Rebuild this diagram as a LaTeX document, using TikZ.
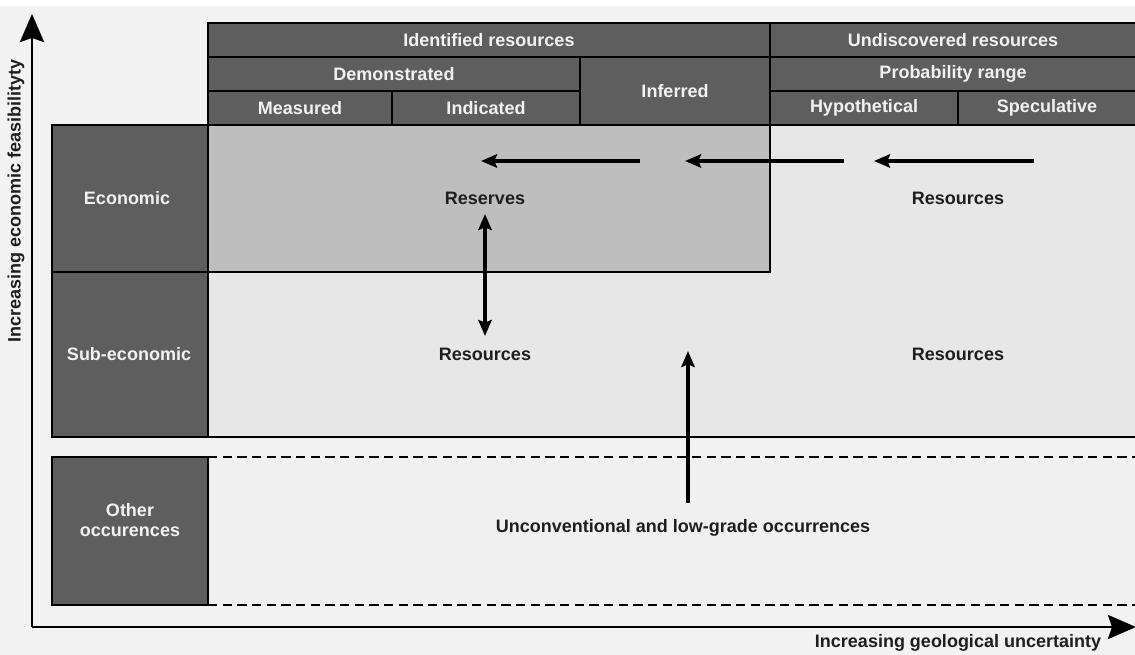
\documentclass[tikz,border=0pt]{standalone}
\usepackage{fontspec}
\setmainfont{Liberation Sans}
\usetikzlibrary{arrows.meta,fit}
\definecolor{bgc}{HTML}{F2F2F2}
\definecolor{hdrc}{HTML}{5E5E5E}
\definecolor{resc}{HTML}{BEBEBE}
\definecolor{lightc}{HTML}{E7E7E7}
\definecolor{otherc}{HTML}{F0F0F0}
\definecolor{txtw}{HTML}{F2F2F2}
\definecolor{txtd}{HTML}{1E1E1E}
\begin{document}
\begin{tikzpicture}[x=0.75pt,y=-0.75pt,
  lbl/.style={font=\bfseries\fontsize{13.5}{16}\selectfont},
  hdr/.style={draw=black,line width=1.3pt,fill=hdrc,inner sep=0pt},
  htxt/.style={lbl,text=txtw,align=center},
  body/.style={text=txtd,lbl},
  flow/.style={line width=2.7pt,-{Stealth[length=12pt,width=10pt,inset=2pt]}},
  both/.style={line width=2.7pt,{Stealth[length=12pt,width=10pt,inset=2pt]}-{Stealth[length=12pt,width=10pt,inset=2pt]}},
  axis/.style={line width=2.2pt,-{Stealth[length=21pt,width=18pt,inset=3pt]}}]
\useasboundingbox (0,0) rectangle (1135,655);
\fill[bgc] (0,0) rectangle (1135,655);
\fill[white] (0,0) rectangle (1135,6);
% body regions
\fill[lightc] (208,125) rectangle (1135,437);
\filldraw[fill=resc,draw=black,line width=1.5pt] (208,125) rectangle (770,272);
\fill[otherc] (208,457) rectangle (1135,605);
\draw[line width=1.5pt,dash pattern=on 7pt off 4pt] (208,457) -- (1135,457);
\draw[line width=1.5pt,dash pattern=on 7pt off 4pt] (208,605) -- (1135,605);
% side boxes
\node[hdr,fit={(52,125) (208,272)}] (eco) {};
\node[htxt] (ecot) at (127,198) {Economic};
\node[hdr,fit={(52,272) (208,437)}] (sub) {};
\node[htxt] (subt) at (129,354) {Sub-economic};
\node[hdr,fit={(52,457) (208,605)}] (oth) {};
\node[htxt,font=\bfseries\fontsize{13.5}{15.5}\selectfont] (otht) at (130,520) {Other\\occurences};
% header
\node[hdr,fit={(208,23) (770,57)}] (ident) {};
\node[htxt] at (ident.center) {Identified resources};
\node[hdr,fit={(208,57) (580,91)}] (demo) {};
\node[htxt] at (demo.center) {Demonstrated};
\node[hdr,fit={(208,91) (392,125)}] (meas) {};
\node[htxt] at (meas.center) {Measured};
\node[hdr,fit={(392,91) (580,125)}] (indi) {};
\node[htxt] at (indi.center) {Indicated};
\node[hdr,fit={(580,57) (770,125)}] (infe) {};
\node[htxt] at (infe.center) {Inferred};
\node[hdr,fit={(770,23) (1136,57)}] (undi) {};
\node[htxt] at (undi.center) {Undiscovered resources};
\node[hdr,fit={(770,57) (1136,91)}] (prob) {};
\node[htxt] at (prob.center) {Probability range};
\node[hdr,fit={(770,91) (958,125)}] (hypo) {};
\node[htxt] at (hypo.center) {Hypothetical};
\node[hdr,fit={(958,91) (1136,125)}] (spec) {};
\node[htxt] at (spec.center) {Speculative};
\draw[line width=1.5pt] (208,125) -- (208,437);
\draw[line width=2pt] (52,437) -- (1135,437);
% body labels
\node[body] (reserves) at (485,198) {Reserves};
\node[body] (resR1) at (958,198) {Resources};
\node[body] (resL2) at (485,354) {Resources};
\node[body] (resR2) at (958,354) {Resources};
\node[body] (unconv) at (683,528) {Unconventional and low-grade occurrences};
% arrows
\coordinate (a1s) at (640,161); \coordinate (a1e) at (481,161);
\coordinate (a2s) at (844,161); \coordinate (a2e) at (685,161);
\coordinate (a3s) at (1034,161); \coordinate (a3e) at (874,161);
\draw[flow] (a1s) -- (a1e);
\draw[flow] (a2s) -- (a2e);
\draw[flow] (a3s) -- (a3e);
\coordinate (d1) at (485,214); \coordinate (d2) at (485,336);
\draw[both] (d1) -- (d2);
\coordinate (v1) at (688,503); \coordinate (v2) at (688,351);
\draw[flow] (v1) -- (v2);
% axes
\coordinate (O) at (32,627);
\coordinate (Yt) at (32,14);
\coordinate (Xt) at (1136,627);
\draw[axis] (O) -- (Yt);
\draw[axis] (O) -- (Xt);
\node[body,rotate=90] (ylab) at (16,201) {Increasing economic feasibilityty};
\node[body] (xlab) at (958,643) {Increasing geological uncertainty};
\end{tikzpicture}
\end{document}
